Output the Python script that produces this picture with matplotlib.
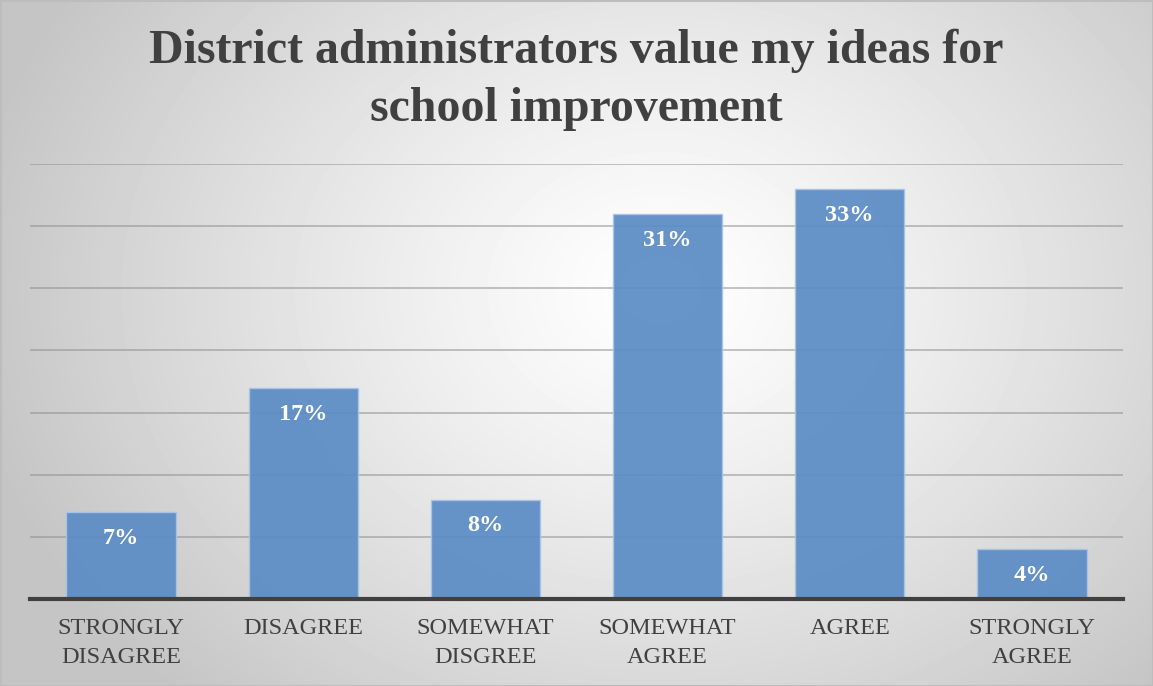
import matplotlib.pyplot as plt
import numpy as np

categories = ["STRONGLY\nDISAGREE", "DISAGREE", "SOMEWHAT\nDISGREE",
              "SOMEWHAT\nAGREE", "AGREE", "STRONGLY\nAGREE"]
percents = [7, 17, 8, 31, 33, 4]
y_ticks = [0, 5, 10, 15, 20, 25, 30, 35]

title = "District administrators value my ideas for\nschool improvement"

serif = ["Liberation Serif", "DejaVu Serif"]
W, H = 1153, 686

fig = plt.figure(figsize=(W / 100, H / 100), dpi=100)

# radial grey-to-white backdrop
bg = fig.add_axes([0, 0, 1, 1], zorder=0)
yy, xx = np.mgrid[0:H, 0:W]
cx, cy = 660, 290
d = np.sqrt(((xx - cx) / 1.0) ** 2 + ((yy - cy) / 0.8) ** 2)
shade = 1.0 - 0.23 * np.clip(d / 700, 0, 1) ** 1.2
bg.imshow(shade, cmap="gray", vmin=0, vmax=1, extent=[0, W, H, 0], aspect="auto")
bg.add_patch(plt.Rectangle((0.5, 0.5), W - 1, H - 1, fill=False,
                           edgecolor="#bdbdbd", linewidth=1.5))
bg.set_xlim(0, W)
bg.set_ylim(H, 0)
bg.axis("off")

ax = fig.add_axes([30 / W, (H - 599) / H, 1093 / W, (599 - 164) / H], zorder=1)
ax.patch.set_alpha(0)

x = np.arange(len(categories))
ax.bar(x, percents, width=0.6, color="#5b8cc5", alpha=0.93,
       edgecolor="#a9c4e6", linewidth=1.0, zorder=3)

for xi, v in zip(x, percents):
    ax.annotate(f"{v}%", (xi, v), xytext=(0, -19), textcoords="offset points",
                ha="center", va="center", color="white", fontweight="bold",
                fontsize=17.5, family=serif, zorder=4)

ax.set_xlim(-0.5, len(categories) - 0.5)
ax.set_ylim(0, 35)
ax.set_yticks(y_ticks)
ax.yaxis.grid(True, color="#8c8c8c", alpha=0.55, linewidth=1.3, zorder=1)
ax.set_axisbelow(True)
ax.tick_params(axis="y", left=False, labelleft=False)
ax.tick_params(axis="x", length=0, pad=14)
ax.set_xticks(x)
ax.set_xticklabels(categories, family=serif, fontsize=17.5, color="#404040",
                   linespacing=1.45)

for side in ["top", "right", "left"]:
    ax.spines[side].set_visible(False)
ax.spines["bottom"].set_color("#404040")
ax.spines["bottom"].set_linewidth(3)
ax.spines["bottom"].set_zorder(5)

fig.text(0.5, 1 - 80 / H, title, ha="center", va="center", family=serif,
         fontweight="bold", fontsize=34.5, color="#404040", linespacing=1.42,
         zorder=2)

fig.savefig("out.png", dpi=100)
